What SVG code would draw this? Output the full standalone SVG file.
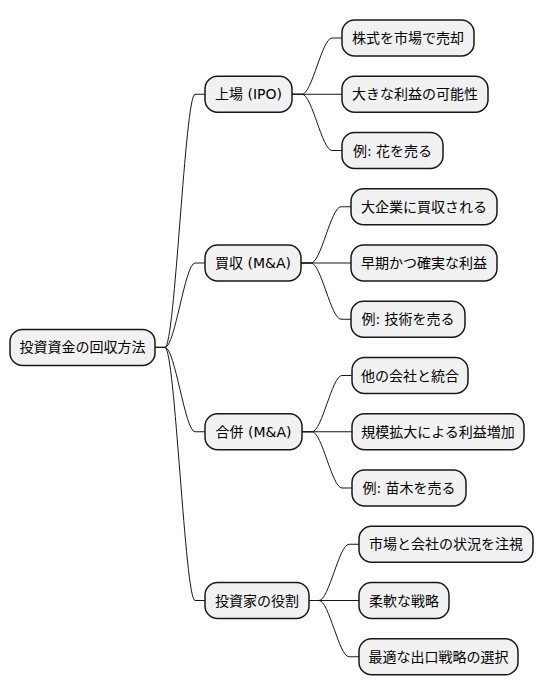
<svg xmlns="http://www.w3.org/2000/svg" width="544" height="696" viewBox="0 0 544 696">
<style>
.n rect{fill:#F1F1F1;stroke:#181818;stroke-width:1.5}
.n text{font-family:"DejaVu Sans","Noto Sans CJK JP",sans-serif;font-size:14px;fill:#000;text-anchor:middle}
#links path{fill:none;stroke:#181818;stroke-width:1}
</style>
<rect width="544" height="696" fill="#FFFFFF"/>
<g id="links">
<path d="M155,347.4 L165,347.4 C175,347.4 185,94.25 195,94.25 L205,94.25"/>
<path d="M155,347.4 L165,347.4 C175,347.4 185,263 195,263 L205,263"/>
<path d="M155,347.4 L165,347.4 C175,347.4 185,431.75 195,431.75 L205,431.75"/>
<path d="M155,347.4 L165,347.4 C175,347.4 185,600.5 195,600.5 L205,600.5"/>
<path d="M292,94.25 L302,94.25 C312,94.25 322,38 332,38 L342,38"/>
<path d="M292,94.25 L342,94.25"/>
<path d="M292,94.25 L302,94.25 C312,94.25 322,150.5 332,150.5 L342,150.5"/>
<path d="M301,263 L311,263 C321,263 331,206.75 341,206.75 L351,206.75"/>
<path d="M301,263 L351,263"/>
<path d="M301,263 L311,263 C321,263 331,319.25 341,319.25 L351,319.25"/>
<path d="M302,431.75 L312,431.75 C322,431.75 332,375.5 342,375.5 L352,375.5"/>
<path d="M302,431.75 L352,431.75"/>
<path d="M302,431.75 L312,431.75 C322,431.75 332,488 342,488 L352,488"/>
<path d="M309,600.5 L319,600.5 C329,600.5 339,544.25 349,544.25 L359,544.25"/>
<path d="M309,600.5 L359,600.5"/>
<path d="M309,600.5 L319,600.5 C329,600.5 339,656.75 349,656.75 L359,656.75"/>
</g>
<g id="root" class="n"><rect x="10" y="329.4" width="145" height="36" rx="12.5"/><text x="82.5" y="352.4">投資資金の回収方法</text></g>
<g id="ipo" class="n"><rect x="205" y="76.25" width="87" height="36" rx="12.5"/><text x="248.5" y="99.25">上場 (IPO)</text></g>
<g id="acq" class="n"><rect x="205" y="245" width="96" height="36" rx="12.5"/><text x="253" y="268">買収 (M&amp;A)</text></g>
<g id="merge" class="n"><rect x="205" y="413.75" width="97" height="36" rx="12.5"/><text x="253.5" y="436.75">合併 (M&amp;A)</text></g>
<g id="role" class="n"><rect x="205" y="582.5" width="104" height="36" rx="12.5"/><text x="257" y="605.5">投資家の役割</text></g>
<g id="ipo1" class="n"><rect x="342" y="20" width="132" height="36" rx="12.5"/><text x="408" y="43">株式を市場で売却</text></g>
<g id="ipo2" class="n"><rect x="342" y="76.25" width="146" height="36" rx="12.5"/><text x="415" y="99.25">大きな利益の可能性</text></g>
<g id="ipo3" class="n"><rect x="342" y="132.5" width="101" height="36" rx="12.5"/><text x="392.5" y="155.5">例: 花を売る</text></g>
<g id="acq1" class="n"><rect x="351" y="188.75" width="146" height="36" rx="12.5"/><text x="424" y="211.75">大企業に買収される</text></g>
<g id="acq2" class="n"><rect x="351" y="245" width="146" height="36" rx="12.5"/><text x="424" y="268">早期かつ確実な利益</text></g>
<g id="acq3" class="n"><rect x="351" y="301.25" width="114" height="36" rx="12.5"/><text x="408" y="324.25">例: 技術を売る</text></g>
<g id="merge1" class="n"><rect x="352" y="357.5" width="116" height="36" rx="12.5"/><text x="410" y="380.5">他の会社と統合</text></g>
<g id="merge2" class="n"><rect x="352" y="413.75" width="172" height="36" rx="12.5"/><text x="438" y="436.75">規模拡大による利益増加</text></g>
<g id="merge3" class="n"><rect x="352" y="470" width="114" height="36" rx="12.5"/><text x="409" y="493">例: 苗木を売る</text></g>
<g id="role1" class="n"><rect x="359" y="526.25" width="174" height="36" rx="12.5"/><text x="446" y="549.25">市場と会社の状況を注視</text></g>
<g id="role2" class="n"><rect x="359" y="582.5" width="90" height="36" rx="12.5"/><text x="404" y="605.5">柔軟な戦略</text></g>
<g id="role3" class="n"><rect x="359" y="638.75" width="159" height="36" rx="12.5"/><text x="438.5" y="661.75">最適な出口戦略の選択</text></g>
</svg>
